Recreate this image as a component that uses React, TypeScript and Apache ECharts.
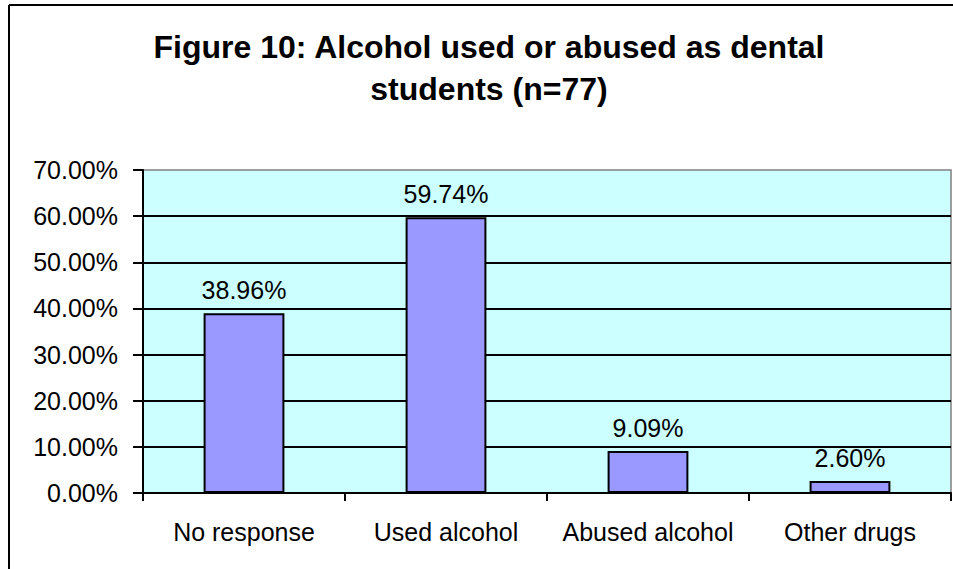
import React, { useEffect, useRef } from "react";
import * as echarts from "echarts";

const categories = ["No response", "Used alcohol", "Abused alcohol", "Other drugs"];
const values = [38.96, 59.74, 9.09, 2.6];
const titleLines = ["Figure 10: Alcohol used or abused as dental", "students (n=77)"];

const FONT = "Liberation Sans, Arial, sans-serif";

export default function App() {
  const ref = useRef<HTMLDivElement>(null);
  useEffect(() => {
    document.body.style.margin = "0";
    const chart = echarts.init(ref.current!, null, { renderer: "svg" });
    chart.setOption({
      animation: false,
      backgroundColor: "#ffffff",
      textStyle: { fontFamily: FONT },
      grid: {
        left: 143,
        top: 170,
        right: 2,
        bottom: 76,
        show: true,
        backgroundColor: "#CCFFFF",
        borderColor: "#808080",
        borderWidth: 1.5,
      },
      xAxis: {
        type: "category",
        data: categories,
        axisLine: { lineStyle: { color: "#000", width: 2 } },
        axisTick: { show: true, interval: 0, length: 8, lineStyle: { color: "#000", width: 2 } },
        axisLabel: { color: "#000", fontSize: 25, margin: 26, interval: 0, fontFamily: FONT },
      },
      yAxis: {
        type: "value",
        min: 0,
        max: 70,
        interval: 10,
        axisLine: { show: true, lineStyle: { color: "#000", width: 2 } },
        axisTick: { show: true, length: 10, lineStyle: { color: "#000", width: 2 } },
        axisLabel: {
          color: "#000",
          fontSize: 25,
          margin: 25,
          fontFamily: FONT,
          formatter: (v: number) => v.toFixed(2) + "%",
        },
        splitLine: { show: true, showMaxLine: false, lineStyle: { color: "#000", width: 2 } },
      },
      series: [
        {
          type: "bar",
          data: values,
          barWidth: "40%",
          itemStyle: { color: "#9999FF", borderColor: "#000", borderWidth: 2 },
          label: {
            show: true,
            position: "top",
            distance: 11,
            color: "#000",
            fontSize: 25,
            fontFamily: FONT,
            formatter: (p: any) => p.value.toFixed(2) + "%",
          },
        },
      ],
      graphic: [
        { type: "line", shape: { x1: 9, y1: 5, x2: 953, y2: 5 }, style: { stroke: "#000", lineWidth: 2 } },
        { type: "line", shape: { x1: 9, y1: 5, x2: 9, y2: 569 }, style: { stroke: "#000", lineWidth: 2 } },
        {
          type: "text",
          x: 489,
          y: 47,
          style: {
            text: titleLines[0],
            fontFamily: FONT,
            fontWeight: "bold",
            fontSize: 32,
            fill: "#000",
            textAlign: "center",
            textVerticalAlign: "middle",
          },
        },
        {
          type: "text",
          x: 489,
          y: 89,
          style: {
            text: titleLines[1],
            fontFamily: FONT,
            fontWeight: "bold",
            fontSize: 32,
            fill: "#000",
            textAlign: "center",
            textVerticalAlign: "middle",
          },
        },
      ],
    });
    return () => chart.dispose();
  }, []);
  return <div ref={ref} style={{ position: "absolute", left: 0, top: 0, width: 953, height: 569 }} />;
}
